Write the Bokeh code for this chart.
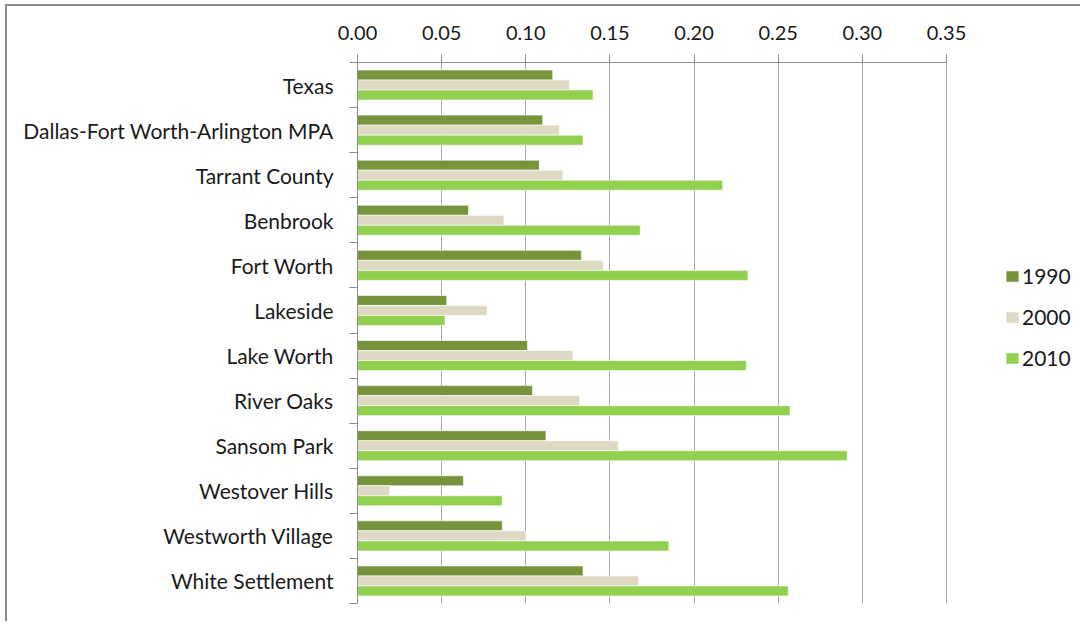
from bokeh.plotting import figure
from bokeh.models import (Range1d, FixedTicker, NumeralTickFormatter,
                          ColumnDataSource, Legend, LegendItem,
                          CustomJSTickFormatter)
from bokeh.transform import dodge
from bokeh.embed import file_html
from bokeh.resources import INLINE

categories = ["Texas", "Dallas-Fort Worth-Arlington MPA", "Tarrant County", "Benbrook",
              "Fort Worth", "Lakeside", "Lake Worth", "River Oaks", "Sansom Park",
              "Westover Hills", "Westworth Village", "White Settlement"]
v1990 = [0.116, 0.110, 0.108, 0.066, 0.133, 0.053, 0.101, 0.104, 0.112, 0.063, 0.086, 0.134]
v2000 = [0.126, 0.120, 0.122, 0.087, 0.146, 0.077, 0.128, 0.132, 0.155, 0.019, 0.100, 0.167]
v2010 = [0.140, 0.134, 0.217, 0.168, 0.232, 0.052, 0.231, 0.257, 0.291, 0.086, 0.185, 0.256]
years = ["1990", "2000", "2010"]
colors = ["#77933C", "#DDD9C3", "#92D050"]
x_ticks = [0.00, 0.05, 0.10, 0.15, 0.20, 0.25, 0.30, 0.35]

FONT = "Lato"
n = len(categories)
# category slot positions (first category at the top)
pos = [n - 1 - i + 0.5 for i in range(n)]

FRAME_W = 725
AXIS_W = 589          # pixel length of the 0..0.35 value axis
x_end = 0.35 * FRAME_W / AXIS_W

p = figure(frame_width=FRAME_W, frame_height=541,
           min_border_left=350, min_border_right=0, min_border_top=56, min_border_bottom=20,
           x_range=Range1d(0, x_end), y_range=Range1d(0, n),
           x_axis_location="above", output_backend="svg", toolbar_location=None,
           background_fill_color="white", border_fill_color="white")
p.outline_line_color = None
p.styles = {"margin-left": "7px", "margin-top": "6px",
            "box-shadow": "-2px -2px 0px 0px #8c8c8c"}

src = ColumnDataSource(dict(cat=categories, pos=pos, v1990=v1990, v2000=v2000, v2010=v2010))

bar_h = 0.222
offsets = [bar_h, 0.0, -bar_h]
renderers = []
for yr, col, off in zip(years, colors, offsets):
    r = p.hbar(y=dodge("pos", off), left=0, right="v" + yr, height=bar_h,
               source=src, fill_color=col,
               line_color="white", line_alpha=0.6, line_width=1)
    renderers.append(r)

# x axis (top)
xa = p.xaxis[0]
xa.ticker = FixedTicker(ticks=x_ticks)
xa.bounds = (0, 0.35)
xa.formatter = NumeralTickFormatter(format="0.00")
xa.major_tick_out = 8
xa.major_tick_in = 0
xa.minor_tick_line_color = None
xa.axis_line_color = "#8c8c8c"
xa.major_tick_line_color = "#8c8c8c"
xa.major_label_standoff = 15
xa.major_label_text_font = FONT
xa.major_label_text_font_size = "20px"
xa.major_label_text_color = "#1a1a1a"

p.xgrid.ticker = FixedTicker(ticks=x_ticks)
p.xgrid.grid_line_color = "#a6a6a6"
p.xgrid.grid_line_width = 1
p.ygrid.visible = False

# y axis (left): labels at category centres, tick marks at boundaries
ya = p.yaxis[0]
ya.ticker = FixedTicker(ticks=pos, minor_ticks=list(range(n + 1)))
ya.formatter = CustomJSTickFormatter(args=dict(labels=categories, n=n),
                                     code="const i = n - 1 - Math.floor(tick); return (i >= 0 && i < labels.length) ? labels[i] : '';")
ya.major_tick_out = 0
ya.major_tick_in = 0
ya.minor_tick_out = 8
ya.minor_tick_in = 0
ya.minor_tick_line_color = "#8c8c8c"
ya.axis_line_color = "#8c8c8c"
ya.major_label_standoff = 16
ya.major_label_text_font = FONT
ya.major_label_text_font_size = "21px"
ya.major_label_text_color = "#1a1a1a"

legend = Legend(items=[LegendItem(label=yr, renderers=[r]) for yr, r in zip(years, renderers)],
                location=(647, 233), glyph_width=16, glyph_height=14, label_standoff=2,
                spacing=16, label_height=20, padding=0, margin=0,
                border_line_color=None, background_fill_alpha=0,
                label_text_font=FONT, label_text_font_size="21px", label_text_color="#1a1a1a")
p.add_layout(legend)

open("out.html", "w").write(file_html(p, INLINE))
